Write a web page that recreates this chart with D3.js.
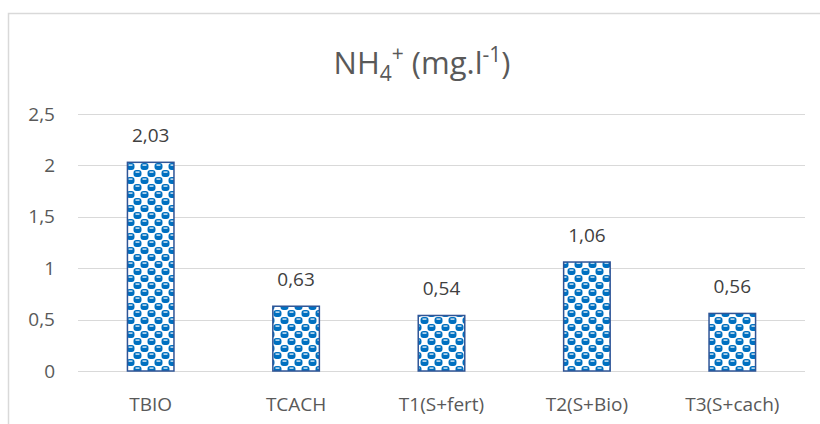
<!DOCTYPE html>
<html>
<head>
<meta charset="utf-8">
<script src="https://cdn.jsdelivr.net/npm/d3@7"></script>
<style>
  body { margin: 0; background: #fff; }
  text { font-family: "Open Sans", Lato, sans-serif; }
</style>
</head>
<body>
<div class="chart"></div>
<script>
// data
var categories = ["TBIO", "TCACH", "T1(S+fert)", "T2(S+Bio)", "T3(S+cach)"];
var values = [2.03, 0.63, 0.54, 1.06, 0.56];
var valueLabels = ["2,03", "0,63", "0,54", "1,06", "0,56"];
var yTicks = [0, 0.5, 1, 1.5, 2, 2.5];
var yTickLabels = ["0", "0,5", "1", "1,5", "2", "2,5"];

var svgWidth = 820;
var svgHeight = 424;

var margin = { top: 114, right: 15, bottom: 53, left: 78 };
var width = 805 - margin.left;
var height = 371 - margin.top;

var svg = d3.select(".chart")
  .append("svg")
  .attr("width", svgWidth)
  .attr("height", svgHeight);

// checker pattern fill
var defs = svg.append("defs");
var pat = defs.append("pattern")
  .attr("id", "checker")
  .attr("patternUnits", "userSpaceOnUse")
  .attr("width", 14)
  .attr("height", 14);
pat.append("rect").attr("width", 14).attr("height", 14).attr("fill", "#fff");
// blue blobs
[[0, 0], [7, 7], [-7, 7], [14, 0], [0, 14], [14, 14]].forEach(function(p) {
  pat.append("rect")
    .attr("x", p[0] - 0.5).attr("y", p[1])
    .attr("width", 8).attr("height", 7)
    .attr("rx", 3)
    .attr("fill", "#0070C0");
  pat.append("rect")
    .attr("x", p[0] + 1.5).attr("y", p[1] + 1.5)
    .attr("width", 4).attr("height", 1.2)
    .attr("fill", "#fff");
});

// outer chart border
svg.append("rect")
  .attr("x", 8.5)
  .attr("y", 13.5)
  .attr("width", 830)
  .attr("height", 430)
  .attr("fill", "none")
  .attr("stroke", "#D9D9D9")
  .attr("stroke-width", 1.5);

// title
var title = svg.append("text")
  .attr("x", 422)
  .attr("y", 74)
  .attr("text-anchor", "middle")
  .attr("fill", "#595959")
  .style("font-size", "31px");
title.append("tspan").text("NH");
title.append("tspan").attr("dy", 7).style("font-size", "21px").text("4");
title.append("tspan").attr("dy", -20).style("font-size", "21px").text("+");
title.append("tspan").attr("dy", 13).text(" (mg.l");
title.append("tspan").attr("dy", -12).style("font-size", "21px").text("-1");
title.append("tspan").attr("dy", 12).text(")");

var chartGroup = svg.append("g")
  .attr("transform", `translate(${margin.left}, ${margin.top})`);

var xBandScale = d3.scaleBand()
  .domain(categories)
  .range([0, width])
  .paddingInner(0.68)
  .paddingOuter(0.34);

var yLinearScale = d3.scaleLinear()
  .domain([0, 2.5])
  .range([height, 0]);

// gridlines
chartGroup.selectAll(".grid")
  .data(yTicks)
  .enter()
  .append("line")
  .attr("x1", 0)
  .attr("x2", width)
  .attr("y1", d => Math.round(yLinearScale(d)) + 0.5)
  .attr("y2", d => Math.round(yLinearScale(d)) + 0.5)
  .attr("stroke", "#D9D9D9")
  .attr("stroke-width", 1);

// y axis labels
var leftAxis = d3.axisLeft(yLinearScale)
  .tickValues(yTicks)
  .tickFormat((d, i) => yTickLabels[i])
  .tickSize(0)
  .tickPadding(23);
var yAxis = chartGroup.append("g").call(leftAxis);
yAxis.select(".domain").remove();
yAxis.selectAll("text")
  .attr("fill", "#595959")
  .style("font-size", "19px")
  .style("font-family", "'Open Sans', Lato, sans-serif");

// x axis labels
var bottomAxis = d3.axisBottom(xBandScale).tickSize(0).tickPadding(27);
var xAxis = chartGroup.append("g")
  .attr("transform", `translate(0, ${height})`)
  .call(bottomAxis);
xAxis.select(".domain").remove();
xAxis.selectAll("text")
  .attr("fill", "#595959")
  .style("font-size", "19px")
  .style("font-family", "'Open Sans', Lato, sans-serif");

// bars
chartGroup.selectAll(".bar")
  .data(values)
  .enter()
  .append("rect")
  .attr("x", (d, i) => xBandScale(categories[i]))
  .attr("y", d => yLinearScale(d))
  .attr("width", xBandScale.bandwidth())
  .attr("height", d => height - yLinearScale(d))
  .attr("fill", "url(#checker)")
  .attr("stroke", "#2F5597")
  .attr("stroke-width", 1.5);

// data labels
chartGroup.selectAll(".vlabel")
  .data(values)
  .enter()
  .append("text")
  .attr("x", (d, i) => xBandScale(categories[i]) + xBandScale.bandwidth() / 2)
  .attr("y", d => yLinearScale(d) - 20)
  .attr("text-anchor", "middle")
  .attr("fill", "#404040")
  .style("font-size", "19px")
  .text((d, i) => valueLabels[i]);
</script>
</body>
</html>
